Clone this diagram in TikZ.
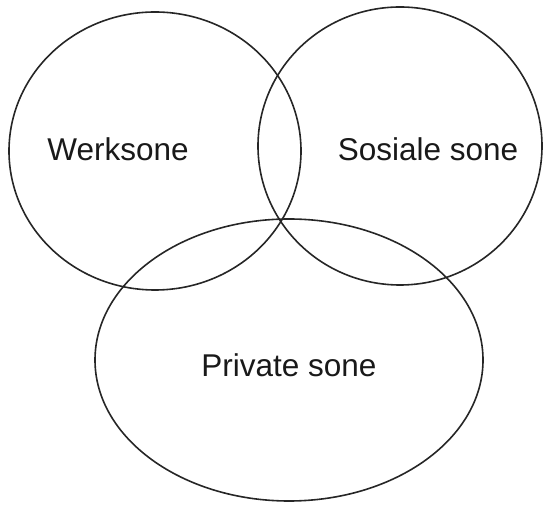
\documentclass[tikz,border=0pt]{standalone}
\usepackage{fontspec}
\setmainfont{Liberation Sans}
\tikzset{
  zone/.style={line width=1.6pt,black!85},
  zonelabel/.style={anchor=base,inner sep=0pt,font=\fontsize{31.5}{37}\selectfont,text=black!90}
}
\begin{document}
\begin{tikzpicture}[x=1pt,y=1pt]
\useasboundingbox (0,0) rectangle (543,505);
\draw[zone] (155,354) ellipse [x radius=146,y radius=139];
\draw[zone] (400,359) ellipse [x radius=142,y radius=139];
\draw[zone] (289,145) ellipse [x radius=194,y radius=141];
\node[zonelabel] (work) at (118,344) {Werksone};
\node[zonelabel] (social) at (428,344) {Sosiale sone};
\node[zonelabel] (private) at (289,128) {Private sone};
\end{tikzpicture}
\end{document}
